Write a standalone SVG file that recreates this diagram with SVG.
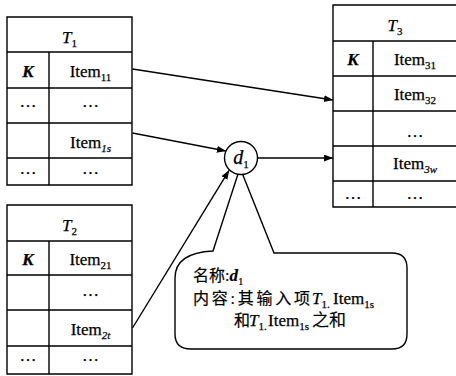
<svg xmlns="http://www.w3.org/2000/svg" width="456" height="376" viewBox="0 0 456 376">
<style>
.ln{stroke:#000;stroke-width:1.4;fill:none}
.t{font-family:"Liberation Serif","Noto Sans CJK SC",serif;font-size:17px;fill:#000;stroke:#000;stroke-width:0.25;text-anchor:middle}
.it{font-style:italic}
.k{font-style:italic;font-weight:bold}
.c{font-family:"Liberation Serif","Noto Sans CJK SC",serif;font-size:16px;fill:#000;stroke:#000;stroke-width:0.2}
.cl{font-family:"Liberation Serif",serif;font-size:17px;fill:#000;stroke:#000;stroke-width:0.25}
.sub{font-size:11px}
</style>
<defs>
<marker id="ah" markerUnits="userSpaceOnUse" markerWidth="10" markerHeight="8" refX="9" refY="3.5" orient="auto">
<path d="M0,0 L9,3.5 L0,7 z" fill="#000"/>
</marker>
</defs>
<rect width="456" height="376" fill="#fff"/>

<g id="T1">
<path class="ln" d="M7,17 H132 V185 H7 Z M7,52 H132 M7,88 H132 M7,123 H132 M7,158 H132 M49,52 V185"/>
<text class="t" x="69.5" y="42.5"><tspan class="it">T</tspan><tspan class="sub" dy="4">1</tspan></text>
<text class="t k" x="28" y="77">K</text>
<text class="t" x="90.5" y="77">Item<tspan class="sub" dy="4">11</tspan></text>
<text class="t" x="28" y="107">…</text>
<text class="t" x="90.5" y="107">…</text>
<text class="t" x="90.5" y="147.5">Item<tspan class="sub it" dy="4">1s</tspan></text>
<text class="t" x="28" y="174">…</text>
<text class="t" x="90.5" y="174">…</text>
</g>

<g id="T2">
<path class="ln" d="M7,205 H132 V374 H7 Z M7,241 H132 M7,275 H132 M7,310 H132 M7,346 H132 M49,241 V374"/>
<text class="t" x="69.5" y="231"><tspan class="it">T</tspan><tspan class="sub" dy="4">2</tspan></text>
<text class="t k" x="28" y="265">K</text>
<text class="t" x="90.5" y="265">Item<tspan class="sub" dy="4">21</tspan></text>
<text class="t" x="90.5" y="296">…</text>
<text class="t" x="90.5" y="335">Item<tspan class="sub it" dy="4">2t</tspan></text>
<text class="t" x="28" y="361">…</text>
<text class="t" x="90.5" y="361">…</text>
</g>

<g id="T3">
<path class="ln" d="M333,5 H458 V207 H333 Z M333,41 H458 M333,76 H458 M333,111 H458 M333,146 H458 M333,181 H458 M373,41 V207"/>
<text class="t" x="395" y="31"><tspan class="it">T</tspan><tspan class="sub" dy="4">3</tspan></text>
<text class="t k" x="353" y="65">K</text>
<text class="t" x="415" y="65">Item<tspan class="sub" dy="4">31</tspan></text>
<text class="t" x="415" y="100">Item<tspan class="sub" dy="4">32</tspan></text>
<text class="t" x="415" y="137">…</text>
<text class="t" x="415" y="169">Item<tspan class="sub it" dy="4">3w</tspan></text>
<text class="t" x="353" y="199">…</text>
<text class="t" x="415" y="199">…</text>
</g>

<g id="connectors">
<line class="ln" x1="132.5" y1="69" x2="333" y2="100" marker-end="url(#ah)"/>
<line class="ln" x1="132.5" y1="133" x2="225.9" y2="151" marker-end="url(#ah)"/>
<line class="ln" x1="257.5" y1="158" x2="333" y2="158" marker-end="url(#ah)"/>
<line class="ln" x1="132.5" y1="328" x2="229.1" y2="170.3" marker-end="url(#ah)"/>
</g>

<g id="callout">
<path class="ln" style="fill:#fff" d="M238,174 L213,251 C192,252 175,258 175,278 L175,334 Q175,349 191,349 L392,349 Q407,349 407,334 L407,268 Q407,253 392,253 L274,253 L242.5,174"/>
<text class="c" x="193" y="281">名称:<tspan class="k" style="font-size:17px">d</tspan><tspan dy="4" style="font-size:11px">1</tspan></text>
<text class="c" x="193" y="304" textLength="117" lengthAdjust="spacing">内容:其输入项</text>
<text class="cl" x="312" y="304"><tspan class="it">T</tspan><tspan class="sub" dy="4">1.</tspan></text>
<text class="cl" x="333" y="304">Item<tspan class="sub" dy="4">1s</tspan></text>
<text class="c" x="234" y="326">和</text>
<text class="cl" x="249" y="326"><tspan class="it">T</tspan><tspan class="sub" dy="4">1.</tspan></text>
<text class="cl" x="268" y="326">Item<tspan class="sub" dy="4">1s</tspan></text>
<text class="c" x="312" y="326" style="font-size:17px">之和</text>
</g>

<g id="d1">
<circle class="ln" cx="241" cy="158" r="16.5" style="fill:#fff"/>
<text class="t" x="241" y="164" style="font-size:20px"><tspan class="it">d</tspan><tspan class="sub" dy="4">1</tspan></text>
</g>
</svg>
